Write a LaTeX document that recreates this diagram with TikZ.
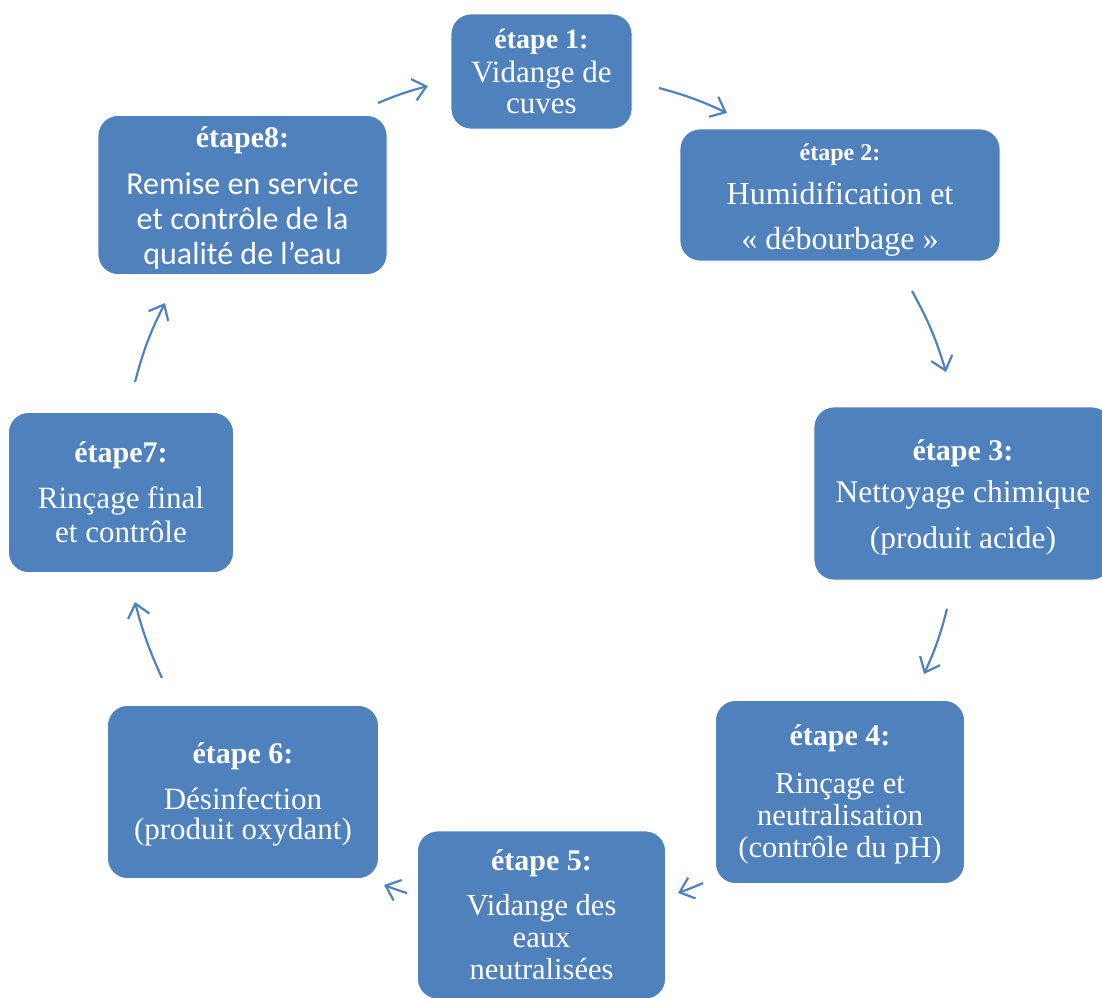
\documentclass[tikz,border=0pt]{standalone}
\usepackage{fontspec}
\setmainfont{Liberation Serif}
\newfontfamily\calibri{Carlito}
\usetikzlibrary{arrows.meta}
\definecolor{smartblue}{HTML}{4F81BD}
\begin{document}
\begin{tikzpicture}[x=1pt,y=-1pt,fleche/.style={smartblue,line width=2.2pt,-{Straight Barb[length=13pt,width=22pt]}}]
    \tikzstyle{etape} = [rounded corners=20pt, fill=smartblue, draw=white, line width=0.8pt]
    \tikzstyle{texte} = [text=white, align=center, inner sep=0pt]
    \useasboundingbox (0,0) rectangle (1102,997);
        % boxes
        \node[etape,minimum width=181pt,minimum height=115pt] (e1) at (541.5,71.5) {};
        \node[etape,minimum width=320pt,minimum height=132pt] (e2) at (840,195) {};
        \node[etape,minimum width=298pt,minimum height=173pt] (e3) at (963,493.5) {};
        \node[etape,minimum width=249pt,minimum height=183pt] (e4) at (840,792) {};
        \node[etape,minimum width=248pt,minimum height=168pt] (e5) at (541.5,915) {};
        \node[etape,minimum width=271pt,minimum height=173pt] (e6) at (243,792) {};
        \node[etape,minimum width=225pt,minimum height=160pt] (e7) at (121,492.5) {};
        \node[etape,minimum width=289pt,minimum height=159pt] (e8) at (242.5,195) {};
        % texts
        \node[texte,font=\fontsize{31}{31}\selectfont] (t1) at (e1)
            {{\bfseries\fontsize{28}{28}\selectfont étape 1:}\\[3pt]Vidange de\\cuves};
        \node[texte,font=\fontsize{32}{45}\selectfont,yshift=-5pt] (t2) at (e2)
            {{\bfseries\fontsize{24}{24}\selectfont étape 2:}\\[-1pt]Humidification et\\« débourbage »};
        \node[texte,font=\fontsize{31.5}{46}\selectfont,yshift=-4pt] (t3) at (e3)
            {{\bfseries\fontsize{30}{30}\selectfont étape 3:}\\[-4pt]Nettoyage chimique\\(produit acide)};
        \node[texte,font=\fontsize{30.5}{32}\selectfont,yshift=-2pt] (t4) at (e4)
            {{\bfseries\fontsize{30}{30}\selectfont étape 4:}\\[16pt]Rinçage et\\neutralisation\\(contrôle du pH)};
        \node[texte,font=\fontsize{30.5}{32}\selectfont] (t5) at (e5)
            {{\bfseries\fontsize{30}{30}\selectfont étape 5:}\\[13pt]Vidange des\\eaux\\neutralisées};
        \node[texte,font=\fontsize{31}{30}\selectfont,yshift=-2pt] (t6) at (e6)
            {{\bfseries\fontsize{30}{30}\selectfont étape 6:}\\[16pt]Désinfection\\(produit oxydant)};
        \node[texte,font=\fontsize{31}{34}\selectfont] (t7) at (e7)
            {{\bfseries\fontsize{30}{30}\selectfont étape7:}\\[12pt]Rinçage final\\et contrôle};
        \node[texte,font=\calibri\fontsize{32}{35}\selectfont,yshift=-3pt] (t8) at (e8)
            {{\rmfamily\bfseries\fontsize{30}{30}\selectfont étape8:}\\[12pt]Remise en service\\et contrôle de la\\qualité de l’eau};
        % arrows
        \coordinate (a1) at (378,103);  \coordinate (b1) at (428,86);
        \coordinate (a2) at (659,88);   \coordinate (b2) at (727,113);
        \coordinate (a3) at (912,291);  \coordinate (b3) at (946,372);
        \coordinate (a4) at (947,609);  \coordinate (b4) at (924,674);
        \coordinate (a5) at (703,883);  \coordinate (b5) at (678,893);
        \coordinate (a6) at (407,893);  \coordinate (b6) at (384,885);
        \coordinate (a7) at (162,678);  \coordinate (b7) at (135,602);
        \coordinate (a8) at (135,382);  \coordinate (b8) at (165,303);
        \draw[fleche] (a1) to[bend left=4] (b1);
        \draw[fleche] (a2) to[bend left=5] (b2);
        \draw[fleche] (a3) to[bend left=6] (b3);
        \draw[fleche] (a4) to[bend left=5] (b4);
        \draw[fleche] (a5) to[bend left=2] (b5);
        \draw[fleche] (a6) to[bend left=2] (b6);
        \draw[fleche] (a7) to[bend left=5] (b7);
        \draw[fleche] (a8) to[bend left=6] (b8);
\end{tikzpicture}
\end{document}
